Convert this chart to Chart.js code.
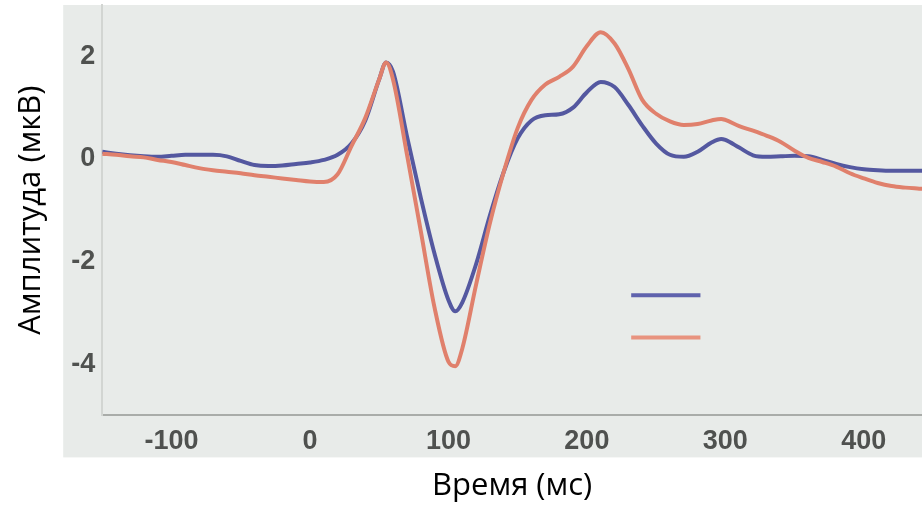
<!DOCTYPE html>
<html>
<head>
<meta charset="utf-8">
<script src="https://cdn.jsdelivr.net/npm/chart.js@4/dist/chart.umd.min.js"></script>
<style>
  html, body { margin: 0; padding: 0; background: #ffffff; }
  #wrap { width: 922px; height: 509px; position: relative; }
</style>
</head>
<body>
<div id="wrap"><canvas id="c" width="922" height="509"></canvas></div>
<script>
// ---- data ----
const timesMs = [-150,-140,-130,-120,-110,-100,-90,-80,-70,-60,-50,-40,-30,-20,-10,0,10,20,30,40,50,55,60,70,80,90,100,105,110,120,130,140,150,160,170,180,190,200,210,220,230,240,250,260,270,280,290,297,300,310,320,330,340,350,360,370,380,390,400,410,420,430,440,445];
const blueValues = [0.14,0.10,0.07,0.05,0.04,0.06,0.08,0.08,0.08,0.05,-0.04,-0.12,-0.14,-0.13,-0.10,-0.07,-0.02,0.08,0.30,0.75,1.55,1.88,1.70,0.45,-0.75,-1.85,-2.75,-2.97,-2.80,-2.05,-1.10,-0.25,0.40,0.75,0.85,0.87,1.00,1.30,1.50,1.40,1.05,0.65,0.30,0.08,0.04,0.14,0.32,0.39,0.37,0.22,0.07,0.04,0.05,0.06,0.05,-0.02,-0.10,-0.16,-0.20,-0.22,-0.23,-0.23,-0.23,-0.23];
const redValues = [0.10,0.08,0.05,0.03,-0.02,-0.06,-0.12,-0.18,-0.22,-0.25,-0.28,-0.32,-0.35,-0.38,-0.41,-0.44,-0.45,-0.30,0.25,0.80,1.55,1.88,1.55,0.10,-1.40,-2.90,-3.95,-4.04,-3.70,-2.45,-1.25,-0.25,0.60,1.15,1.45,1.60,1.80,2.20,2.47,2.25,1.75,1.15,0.88,0.73,0.66,0.68,0.75,0.78,0.76,0.64,0.55,0.45,0.33,0.16,0.02,-0.06,-0.15,-0.28,-0.38,-0.47,-0.53,-0.56,-0.58,-0.59];
const xTickValues = [-100, 0, 100, 200, 300, 400];
const yTickValues = [-4, -2, 0, 2];
const xTitle = 'Время (мс)';
const yTitle = 'Амплитуда (мкВ)';
// legend keys (no text in the reference)
const legendXRange = [232, 282];
const legendYValues = [-2.66, -3.48];

const blueColor = '#5458a0';
const redColor = '#e0806c';
const legendColors = ['#5f62ad', '#e8937f'];

const toPoints = (vals) => timesMs.map((t, i) => ({ x: t, y: vals[i] }));

const bgPlugin = {
  id: 'bg',
  beforeDraw(chart) {
    const { ctx, chartArea } = chart;
    ctx.save();
    ctx.fillStyle = '#ffffff';
    ctx.fillRect(0, 0, chart.width, chart.height);
    ctx.fillStyle = '#e8ebe9';
    ctx.fillRect(chartArea.left - 39, chartArea.top, chartArea.right - chartArea.left + 39, chartArea.bottom - chartArea.top + 42);
    ctx.restore();
  }
};

const legendPlugin = {
  id: 'keys',
  afterDatasetsDraw(chart) {
    const { ctx, scales } = chart;
    const x0 = scales.x.getPixelForValue(legendXRange[0]);
    const x1 = scales.x.getPixelForValue(legendXRange[1]);
    ctx.save();
    ctx.lineWidth = 4;
    legendYValues.forEach((v, i) => {
      const y = scales.y.getPixelForValue(v);
      ctx.strokeStyle = legendColors[i];
      ctx.beginPath();
      ctx.moveTo(x0, y);
      ctx.lineTo(x1, y);
      ctx.stroke();
    });
    ctx.restore();
  }
};

new Chart(document.getElementById('c'), {
  type: 'line',
  data: {
    datasets: [
      { label: 'B', data: toPoints(redValues), borderColor: redColor, borderWidth: 4, pointRadius: 0, cubicInterpolationMode: 'monotone', fill: false },
      { label: 'A', data: toPoints(blueValues), borderColor: blueColor, borderWidth: 4, pointRadius: 0, cubicInterpolationMode: 'monotone', fill: false }
    ]
  },
  options: {
    responsive: false,
    animation: false,
    events: [],
    layout: { padding: { left: 13, top: 5, right: 0, bottom: 0 } },
    plugins: { legend: { display: false }, tooltip: { enabled: false } },
    scales: {
      x: {
        type: 'linear',
        min: -150,
        max: 442,
        afterBuildTicks: (axis) => { axis.ticks = xTickValues.map(v => ({ value: v })); },
        grid: { display: false, drawTicks: false },
        border: { display: true, color: '#a9aca9', width: 2 },
        ticks: {
          padding: 10,
          color: '#4f514f',
          font: { family: 'Liberation Sans, Arial, sans-serif', size: 27, weight: 'bold' },
          maxRotation: 0,
          autoSkip: false
        },
        title: {
          display: true,
          text: xTitle,
          color: '#000000',
          font: { family: 'Open Sans, sans-serif', size: 31 },
          padding: { top: 0, bottom: 4 }
        }
      },
      y: {
        type: 'linear',
        min: -5,
        max: 3,
        afterBuildTicks: (axis) => { axis.ticks = yTickValues.map(v => ({ value: v })); },
        afterFit: (axis) => { axis.paddingTop = 0; axis.paddingBottom = 0; },
        grid: { display: false, drawTicks: false },
        border: { display: true, color: '#d2d5d2', width: 2 },
        ticks: {
          padding: 7,
          color: '#4f514f',
          font: { family: 'Liberation Sans, Arial, sans-serif', size: 27, weight: 'bold' }
        },
        title: {
          display: true,
          text: yTitle,
          color: '#000000',
          font: { family: 'Open Sans, sans-serif', size: 31 },
          padding: { top: 0, bottom: 14 }
        }
      }
    }
  },
  plugins: [bgPlugin, legendPlugin]
});
</script>
</body>
</html>
